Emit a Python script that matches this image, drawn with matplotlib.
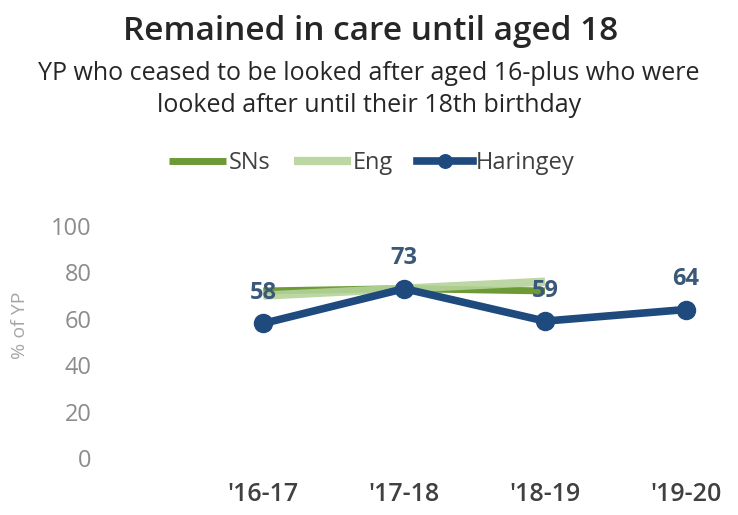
import matplotlib
matplotlib.use("Agg")
import matplotlib.pyplot as plt

# Percentage of young people who ceased to be looked after aged 16+ and stayed in care to 18
years = ["'16-17", "'17-18", "'18-19", "'19-20"]
sns_vals = [72, 73, 72]
eng_vals = [70, 73, 76]
haringey_vals = [58, 73, 59, 64]
y_ticks = [0, 20, 40, 60, 80, 100]

plt.rcParams['font.family'] = ['Open Sans', 'DejaVu Sans']

fig = plt.figure(figsize=(7.38, 5.15), dpi=100)
ax = fig.add_axes([190 / 738, 57 / 515, 548 / 738, 232 / 515])

x_all = list(range(len(years)))
ax.plot(x_all[:len(sns_vals)], sns_vals, color="#6E9A35", lw=5, label="SNs", solid_capstyle="butt")
ax.plot(x_all[:len(eng_vals)], eng_vals, color="#B5D39A", lw=6, label="Eng", solid_capstyle="butt", alpha=0.9)
ax.plot(x_all, haringey_vals, color="#1F4A7E", lw=5.5, marker="o", ms=13, label="Haringey")

for xi, v in zip(x_all, haringey_vals):
    ax.annotate(str(v), (xi, v), xytext=(0, 22), textcoords="offset points",
                ha="center", va="center", fontsize=17, fontweight="bold", color="#3A5878")

ax.set_xlim(-0.52, 3.37)
ax.set_ylim(0, 100)
ax.set_yticks(y_ticks)
ax.set_xticks(x_all)
ax.set_xticklabels(years, fontsize=18, fontweight="semibold", color="#404040")
ax.tick_params(axis="y", labelsize=17, colors="#8C8C8C", length=0, pad=71)
ax.tick_params(axis="x", length=0, pad=17)
for lbl in ax.get_yticklabels():
    lbl.set_horizontalalignment("right")
for s in ax.spines.values():
    s.set_visible(False)

fig.text(20 / 738, 1 - 325 / 515, "% of YP", rotation=90, ha="center", va="center",
         fontsize=14, color="#A6A6A6")

fig.text(371 / 738, 1 - 32 / 515, "Remained in care until aged 18", ha="center", va="center",
         fontsize=24, fontweight="semibold", color="#262626")
fig.text(369 / 738, 1 - 74 / 515, "YP who ceased to be looked after aged 16-plus who were",
         ha="center", va="center", fontsize=18, color="#262626")
fig.text(369 / 738, 1 - 105 / 515, "looked after until their 18th birthday",
         ha="center", va="center", fontsize=18, color="#262626")

fig.legend(loc="center", bbox_to_anchor=(372 / 738, 1 - 163 / 515), ncol=3, frameon=False,
           fontsize=17, handlelength=2.4, handletextpad=0.1, columnspacing=1.0,
           markerscale=0.75, labelcolor="#404040")

fig.savefig("out.png", dpi=100)
